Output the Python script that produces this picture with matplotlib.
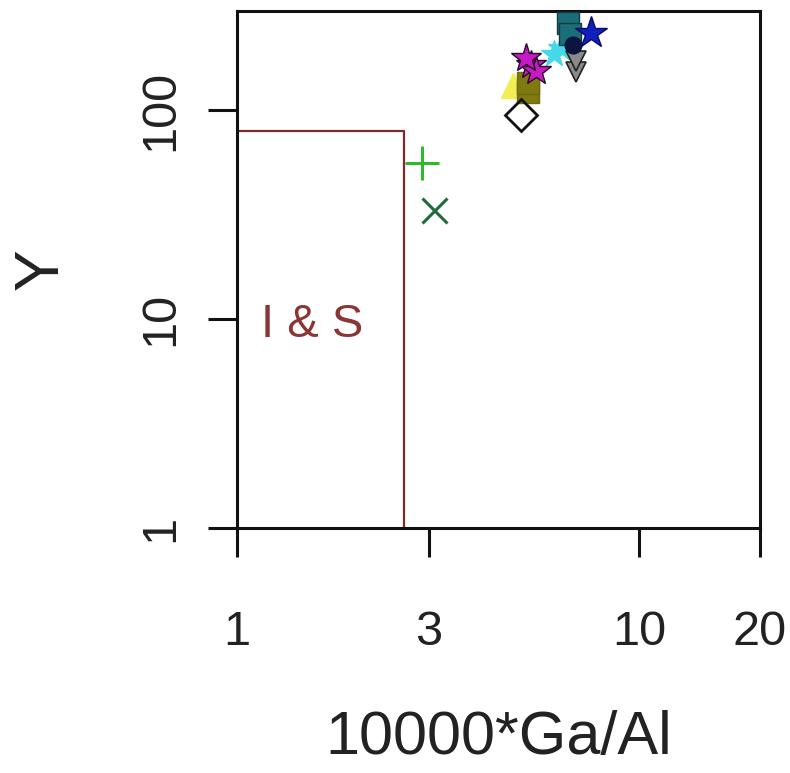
import matplotlib
matplotlib.use("Agg")
import matplotlib.pyplot as plt

plt.rcParams['font.family'] = ['Liberation Sans', 'DejaVu Sans']

# Field boundary (Whalen et al. 1987): I & S field
field_x = [1.0, 2.6, 2.6]
field_y = [80.0, 80.0, 1.0]
field_label = "I & S"
field_label_pos = (1.15, 9.4)

# Sample groups
grp_plus_x = [2.89]
grp_plus_y = [56.0]
grp_cross_x = [3.09]
grp_cross_y = [33.5]
grp_diamond_x = [5.10]
grp_diamond_y = [95.0]
grp_yellow_x = [4.85]
grp_yellow_y = [132.0]
grp_olive_x = [5.31, 5.31]
grp_olive_y = [122.0, 135.0]
grp_magenta_x = [5.40, 5.55, 5.25]
grp_magenta_y = [165.0, 155.0, 178.0]
grp_cyan_x = [6.15, 6.40]
grp_cyan_y = [187.0, 200.0]
grp_gray_x = [6.98, 6.98]
grp_gray_y = [152.0, 172.0]
grp_teal_x = [6.67, 6.75]
grp_teal_y = [262.0, 232.0]
grp_navy_x = [6.85]
grp_navy_y = [205.0]
grp_blue_x = [7.60]
grp_blue_y = [234.0]

x_ticks = [1, 3, 10, 20]
y_ticks = [1, 10, 100]
x_label = "10000*Ga/Al"
y_label = "Y"

fig = plt.figure(figsize=(7.90, 7.73), dpi=100)
ax = fig.add_axes([0.300, 0.317, 0.662, 0.669])
ax.set_xscale('log')
ax.set_yscale('log')
ax.set_xlim(1, 20)
ax.set_ylim(1, 300)

ax.plot(field_x, field_y, color='#7e2a2a', lw=1.6, zorder=2)
ax.text(field_label_pos[0], field_label_pos[1], field_label, color='#8b3535',
        fontsize=34, ha='left', va='center')

ax.plot(grp_plus_x, grp_plus_y, ls='none', marker='+', ms=25, mew=2.2, color='#2db82d', zorder=3)
ax.plot(grp_cross_x, grp_cross_y, ls='none', marker='x', ms=18, mew=2.2, color='#1f6b3a', zorder=3)
ax.plot(grp_yellow_x, grp_yellow_y, ls='none', marker='^', ms=18, color='#f2ee55', mec='#f2ee55', zorder=3)
ax.plot(grp_olive_x, grp_olive_y, ls='none', marker='s', ms=16, color='#7f7a10', mec='#6f6a10', zorder=4)
ax.plot(grp_diamond_x, grp_diamond_y, ls='none', marker='D', ms=16, mfc='none', mec='#111111', mew=2.0, zorder=4)
ax.plot(grp_magenta_x, grp_magenta_y, ls='none', marker='*', ms=22, color='#c41bc4', mec='#2a0a2a', mew=1.0, zorder=4)
ax.plot(grp_cyan_x, grp_cyan_y, ls='none', marker='*', ms=20, color='#45d8e8', mec='#45d8e8', zorder=3)
ax.plot(grp_gray_x, grp_gray_y, ls='none', marker='v', ms=15, color='#8a8a8a', mec='#222222', mew=1.2, zorder=4)
ax.plot(grp_teal_x, grp_teal_y, ls='none', marker='s', ms=16, color='#1a6e78', mec='#123c44', zorder=4)
ax.plot(grp_navy_x, grp_navy_y, ls='none', marker='o', ms=12, color='#0c1440', zorder=4)
ax.plot(grp_blue_x, grp_blue_y, ls='none', marker='*', ms=24, color='#1020c0', mec='#0a0a60', zorder=4)

ax.set_xticks(x_ticks)
ax.set_xticklabels([str(v) for v in x_ticks])
ax.set_yticks(y_ticks)
ax.set_yticklabels([str(v) for v in y_ticks])
ax.minorticks_off()

for s in ax.spines.values():
    s.set_linewidth(2.2)
    s.set_color('#111111')

ax.tick_params(axis='both', which='major', length=21, width=2.2, color='#111111',
               direction='out', labelsize=35, labelcolor='#222222')
ax.tick_params(axis='x', pad=38)
ax.tick_params(axis='y', pad=18)
for lab in ax.get_yticklabels():
    lab.set_rotation(90)
    lab.set_va('center')
    lab.set_ha('right')

ax.set_xlabel(x_label, fontsize=44, color='#222222', labelpad=40)
ax.set_ylabel(y_label, fontsize=45, color='#222222', labelpad=48)

fig.savefig('out.png', dpi=100)
